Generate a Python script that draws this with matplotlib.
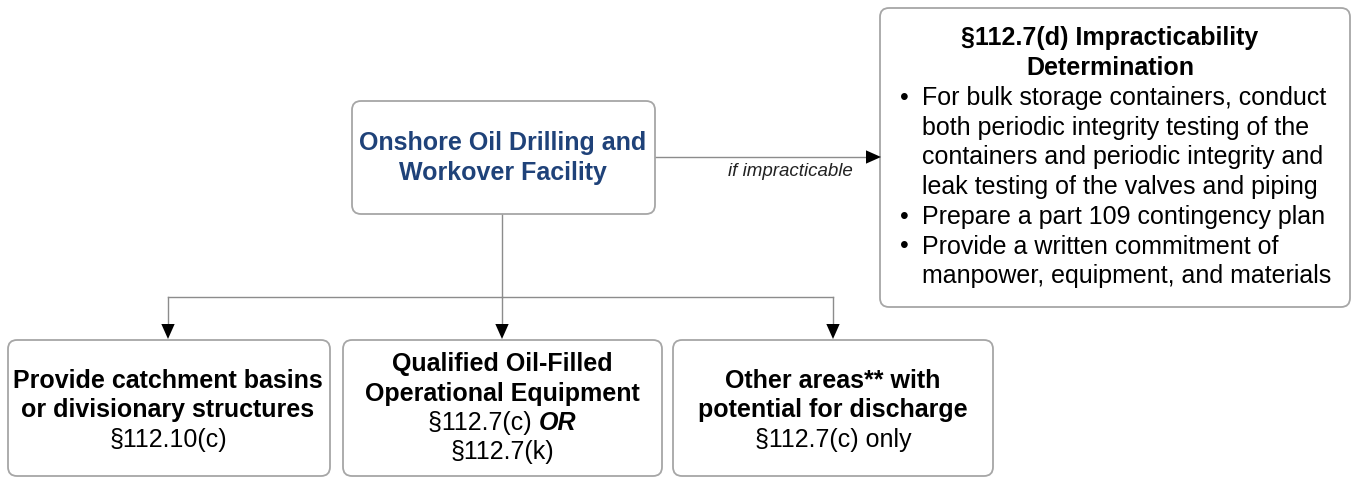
import matplotlib
matplotlib.use("Agg")
import matplotlib.pyplot as plt
from matplotlib.patches import FancyBboxPatch

plt.rcParams['font.family'] = ['Liberation Sans', 'DejaVu Sans']

W, H = 1353, 478
main_label = ["Onshore Oil Drilling and", "Workover Facility"]
arrow_label = "if impracticable"
right_title = ["§112.7(d) Impracticability", "Determination"]
right_bullets = [
    ["For bulk storage containers, conduct",
     "both periodic integrity testing of the",
     "containers and periodic integrity and",
     "leak testing of the valves and piping"],
    ["Prepare a part 109 contingency plan"],
    ["Provide a written commitment of",
     "manpower, equipment, and materials"],
]
box1_bold = ["Provide catchment basins", "or divisionary structures"]
box1_reg = ["§112.10(c)"]
box2_bold = ["Qualified Oil-Filled", "Operational Equipment"]
box2_reg = [("§112.7(c) ", "OR"), ("§112.7(k)", "")]
box3_bold = ["Other areas** with", "potential for discharge"]
box3_reg = ["§112.7(c) only"]

fig = plt.figure(figsize=(W / 100, H / 100), dpi=100)
ax = fig.add_axes([0, 0, 1, 1])
ax.set_xlim(0, W)
ax.set_ylim(H, 0)
ax.axis('off')

EDGE = '#A6A6A6'
LINE = '#8C8C8C'
BLUE = '#1F4279'
FS = 18.0
HEAD = '-|>,head_length=0.9,head_width=0.4'


def box(x0, y0, x1, y1):
    p = FancyBboxPatch((x0, y0), x1 - x0, y1 - y0,
                       boxstyle="round,pad=0,rounding_size=9",
                       fc='white', ec=EDGE, lw=1.3, zorder=2)
    ax.add_patch(p)


def head(x0, y0, x1, y1):
    ax.annotate("", xy=(x1, y1), xytext=(x0, y0),
                arrowprops=dict(arrowstyle=HEAD, color='black', lw=0,
                                shrinkA=0, shrinkB=0, mutation_scale=12),
                zorder=3)


# boxes
box(352, 101, 655, 214)
box(880, 8, 1350, 307)
box(8, 340, 330, 476)
box(343, 340, 662, 476)
box(673, 340, 993, 476)

# connectors
ax.plot([502, 502], [214, 297], color=LINE, lw=1.0, zorder=1)
ax.plot([168, 833], [297, 297], color=LINE, lw=1.0, zorder=1)
for xx in (168, 502, 833):
    ax.plot([xx, xx], [297, 330], color=LINE, lw=1.0, zorder=1)
    head(xx, 324, xx, 339)
ax.plot([655, 870], [157, 157], color=LINE, lw=1.0, zorder=1)
head(866, 157, 881, 157)
ax.text(790, 172, arrow_label, fontsize=13.5, style='italic', color='#222222',
        ha='center', va='center', zorder=4)

# main box text
for i, s in enumerate(main_label):
    ax.text(503, 143 + i * 30, s, fontsize=FS, fontweight='bold', color=BLUE,
            ha='center', va='center', zorder=4)

# right box
for i, s in enumerate(right_title):
    ax.text(1110, 38 + i * 29.5, s, fontsize=FS, fontweight='bold', color='black',
            ha='center', va='center', zorder=4)
y = 98
for group in right_bullets:
    ax.text(904, y, "•", fontsize=FS, ha='center', va='center', zorder=4)
    for line in group:
        ax.text(922, y, line, fontsize=FS, ha='left', va='center', zorder=4)
        y += 29.7

# bottom boxes
def stack(cx, ystart, bold_lines, reg_lines):
    yy = ystart
    for s in bold_lines:
        ax.text(cx, yy, s, fontsize=FS, fontweight='bold', ha='center', va='center', zorder=4)
        yy += 29.5
    for s in reg_lines:
        ax.text(cx, yy, s, fontsize=FS, ha='center', va='center', zorder=4)
        yy += 29.5
    return yy

stack(168, 381, box1_bold, box1_reg)
stack(833, 381, box3_bold, box3_reg)
yy = stack(502, 364, box2_bold, [])
renderer = fig.canvas.get_renderer()
for reg, emph in box2_reg:
    t1 = ax.text(0, yy, reg, fontsize=FS, ha='left', va='center', zorder=4)
    w1 = t1.get_window_extent(renderer).width
    w2 = 0
    t2 = None
    if emph:
        t2 = ax.text(0, yy, emph, fontsize=FS, fontweight='bold', style='italic',
                     ha='left', va='center', zorder=4)
        w2 = t2.get_window_extent(renderer).width
    total = w1 + w2
    x0 = 502 - total / 2
    t1.set_x(x0)
    if t2 is not None:
        t2.set_x(x0 + w1)
    yy += 29.5

fig.savefig("out.png", dpi=100)
